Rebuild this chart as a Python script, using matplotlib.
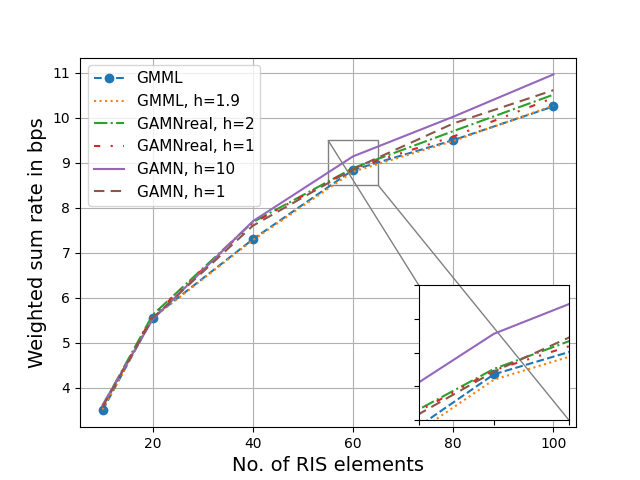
import matplotlib
matplotlib.use('Agg')
import matplotlib.pyplot as plt
from mpl_toolkits.axes_grid1.inset_locator import zoomed_inset_axes, mark_inset

# number of RIS elements
ris = [10, 20, 40, 60, 80, 100]

# weighted sum rate (bps) per scheme
gmml = [3.50, 5.56, 7.30, 8.84, 9.50, 10.25]
gmml_h19 = [3.52, 5.55, 7.28, 8.80, 9.48, 10.27]
gamnreal_h2 = [3.60, 5.62, 7.68, 8.88, 9.70, 10.51]
gamnreal_h1 = [3.57, 5.60, 7.66, 8.87, 9.58, 10.44]
gamn_h10 = [3.62, 5.52, 7.70, 9.14, 10.02, 10.96]
gamn_h1 = [3.58, 5.55, 7.60, 8.86, 9.87, 10.61]

labels = ['GMML', 'GMML, h=1.9', 'GAMNreal, h=2', 'GAMNreal, h=1',
          'GAMN, h=10', 'GAMN, h=1']


def draw(ax):
    ax.plot(ris, gmml, '--o', color='C0', label=labels[0])
    ax.plot(ris, gmml_h19, ':', color='C1', label=labels[1])
    ax.plot(ris, gamnreal_h2, '-.', color='C2', label=labels[2])
    ax.plot(ris, gamnreal_h1, color='C3', linestyle=(0, (3, 5, 1, 5, 1, 5)),
            label=labels[3])
    ax.plot(ris, gamn_h10, '-', color='C4', label=labels[4])
    ax.plot(ris, gamn_h1, color='C5', linestyle=(0, (5, 3)), label=labels[5])


fig, ax = plt.subplots(figsize=(6.4, 4.8), dpi=100)
draw(ax)
ax.set_xlabel('No. of RIS elements', fontsize=14)
ax.set_ylabel('Weighted sum rate in bps', fontsize=14)
ax.grid(True)
ax.legend(loc='upper left', fontsize=11)

axins = zoomed_inset_axes(ax, 3, loc=4)
draw(axins)
axins.set_xlim(55, 65)
axins.set_ylim(8.5, 9.5)
axins.tick_params(labelbottom=False, labelleft=False)
mark_inset(ax, axins, loc1=2, loc2=4, fc='none', ec='0.5')

plt.savefig('out.png')
